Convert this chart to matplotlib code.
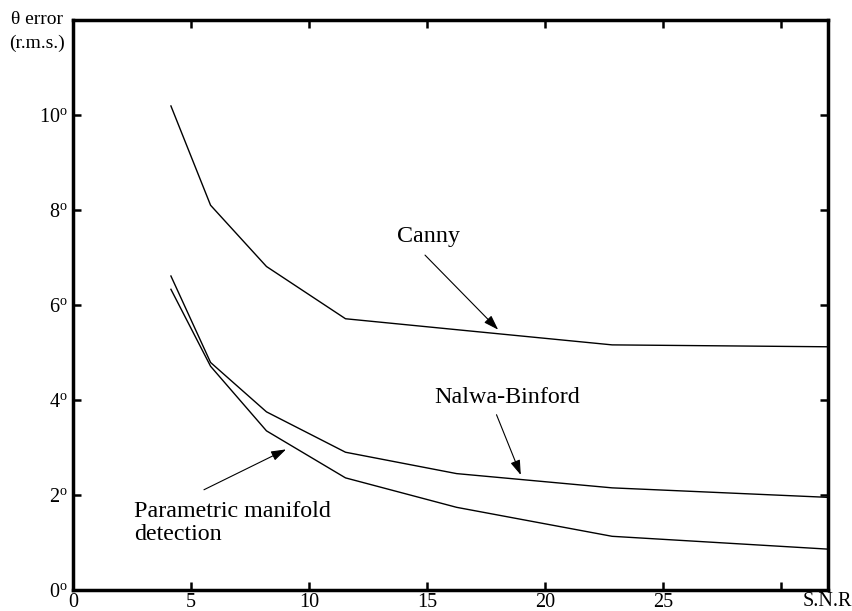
import numpy as np
import matplotlib
matplotlib.use('Agg')
import matplotlib.pyplot as plt

plt.rcParams.update({'font.family': 'Liberation Serif', 'mathtext.fontset': 'custom',
                     'mathtext.rm': 'Liberation Serif', 'mathtext.it': 'Liberation Serif'})

#%% data
snr = [4.15, 5.83, 8.2, 11.55, 16.26, 22.85, 32.0]
canny = [10.19, 8.10, 6.81, 5.71, 5.48, 5.16, 5.12]
nalwa = [6.61, 4.79, 3.75, 2.90, 2.45, 2.15, 1.95]
parametric = [6.33, 4.71, 3.35, 2.36, 1.74, 1.13, 0.86]

xticks = [0, 5, 10, 15, 20, 25, 30]
xticklabels = ['0', '5', '10', '15', '20', '25', '']
yticks = [0, 2, 4, 6, 8, 10]
yticklabels = [f'{v}$^{{\\rm o}}$' for v in yticks]

#%% plot
fig = plt.figure(figsize=(8.52, 6.11), dpi=100)
ax = fig.add_axes([0.0857, 0.0344, 0.8861, 0.9329])

for s in [canny, nalwa, parametric]:
    ax.plot(snr, s, 'k-', lw=1.0)

ax.set_xlim(0, 32)
ax.set_ylim(0, 12)
ax.set_xticks(xticks)
ax.set_xticklabels(xticklabels)
ax.set_yticks(yticks)
ax.set_yticklabels(yticklabels)
ax.tick_params(direction='in', length=6, width=1.8, top=True, right=True,
               labelsize=14.5)
ax.tick_params(axis='x', pad=2.5)
ax.tick_params(axis='y', pad=4)
for sp in ax.spines.values():
    sp.set_linewidth(2.5)

fig.text(827/852, 1 - 601/611, 'S.N.R', ha='center', va='center', fontsize=14.5)
fig.text(37/852, 1 - 20/611, 'θ error', ha='center', va='center', fontsize=14)
fig.text(37/852, 1 - 43/611, '(r.m.s.)', ha='center', va='center', fontsize=14)

# labels with arrows
fs = 17.3
arrow = dict(arrowstyle='-|>,head_length=0.9,head_width=0.3', lw=0.8, color='k',
             shrinkA=0, shrinkB=0)
ax.text(15.08, 7.44, 'Canny', ha='center', va='center', fontsize=fs)
ax.annotate('', xy=(18.02, 5.48), xytext=(14.92, 7.05), arrowprops=arrow)
ax.text(18.38, 4.05, 'Nalwa-Binford', ha='center', va='center', fontsize=fs)
ax.annotate('', xy=(18.98, 2.42), xytext=(17.95, 3.69), arrowprops=arrow)
ax.text(2.58, 1.87, 'Parametric manifold\ndetection', ha='left', va='top', fontsize=fs,
        linespacing=1.1)
ax.annotate('', xy=(9.03, 2.96), xytext=(5.55, 2.11), arrowprops=arrow)

fig.savefig('out.png', dpi=100)
